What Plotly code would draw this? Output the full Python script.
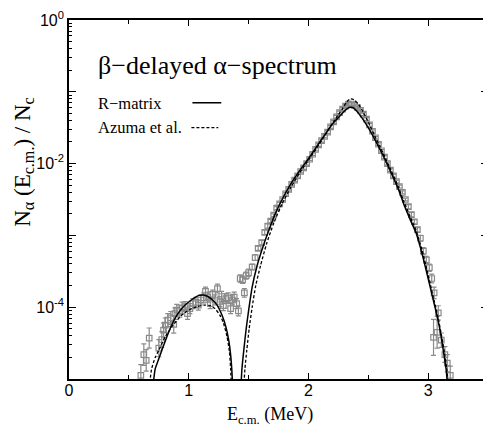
import plotly.graph_objects as go

# ---- measured spectrum (E_cm in MeV, N_alpha/N_c) ----
energy = [0.60, 0.625, 0.645, 0.67, 0.75, 0.775, 0.79, 0.805, 0.825, 0.85,
          0.875, 0.885, 0.90, 0.925, 0.945, 0.97, 0.99, 1.01, 1.035, 1.06,
          1.08, 1.10, 1.125, 1.14, 1.16, 1.18, 1.20, 1.22, 1.24, 1.26,
          1.275, 1.29, 1.31, 1.33, 1.35, 1.365, 1.38, 1.40, 1.415, 1.43,
          1.45, 1.465, 1.48, 1.50, 1.53, 1.555, 1.58, 1.61, 1.635, 1.66,
          1.685, 1.71, 1.735, 1.76, 1.785, 1.81, 1.835, 1.86, 1.885, 1.91,
          1.935, 1.96, 1.985, 2.01, 2.035, 2.06, 2.085, 2.11, 2.135, 2.16,
          2.185, 2.21, 2.235, 2.26, 2.285, 2.31, 2.335, 2.36, 2.385, 2.41,
          2.435, 2.46, 2.485, 2.51, 2.535, 2.56, 2.585, 2.61, 2.635, 2.66,
          2.685, 2.71, 2.735, 2.76, 2.785, 2.81, 2.835, 2.86, 2.885, 2.91,
          2.935, 2.96, 2.985, 3.01, 3.03, 3.045, 3.05, 3.075, 3.085, 3.11,
          3.14, 3.16, 3.185]
counts = [1.12e-5, 2.19e-5, 1.82e-5, 3.72e-5, 2.69e-5, 3.55e-5, 4.79e-5, 5.62e-5, 6.61e-5, 7.08e-5,
          5.75e-5, 8.13e-5, 9.12e-5, 8.71e-5, 9.77e-5, 1.02e-4, 8.13e-5, 9.55e-5, 1.12e-4, 1.17e-4,
          1.07e-4, 1.26e-4, 1.35e-4, 1.66e-4, 1.38e-4, 1.12e-4, 1.51e-4, 1.26e-4, 1.82e-4, 1.20e-4,
          1.41e-4, 1.05e-4, 1.32e-4, 1.35e-4, 9.55e-5, 1.26e-4, 1.38e-4, 1.12e-4, 8.91e-5, 2.51e-4,
          2.40e-4, 1.58e-4, 2.75e-4, 3.02e-4, 3.63e-4, 4.90e-4, 6.61e-4, 7.94e-4, 1.10e-3, 1.35e-3,
          1.58e-3, 1.91e-3, 2.40e-3, 2.75e-3, 3.16e-3, 3.80e-3, 4.37e-3, 5.13e-3, 5.89e-3, 6.76e-3,
          7.76e-3, 8.71e-3, 1.00e-2, 1.15e-2, 1.35e-2, 1.58e-2, 1.82e-2, 2.09e-2, 2.40e-2, 2.75e-2,
          3.24e-2, 3.80e-2, 4.47e-2, 5.13e-2, 5.75e-2, 6.31e-2, 6.76e-2, 6.76e-2, 6.46e-2, 6.03e-2,
          5.50e-2, 4.90e-2, 4.17e-2, 3.47e-2, 2.82e-2, 2.29e-2, 1.86e-2, 1.51e-2, 1.23e-2, 1.00e-2,
          8.13e-3, 6.76e-3, 5.62e-3, 4.79e-3, 3.98e-3, 3.16e-3, 2.51e-3, 1.95e-3, 1.55e-3, 1.20e-3,
          9.12e-4, 6.03e-4, 4.57e-4, 3.55e-4, 2.51e-4, 3.80e-5, 1.58e-4, 4.47e-5, 8.32e-5, 3.47e-5,
          2.19e-5, 1.66e-5, 1.12e-5]
# error half-width in decades
err_dec = [0.15, 0.15, 0.15, 0.14, 0.12, 0.11, 0.10, 0.10, 0.09, 0.09,
           0.12, 0.08, 0.08, 0.08, 0.08, 0.07, 0.08, 0.07, 0.07, 0.07,
           0.07, 0.07, 0.07, 0.06, 0.07, 0.07, 0.06, 0.07, 0.06, 0.07,
           0.07, 0.07, 0.07, 0.07, 0.07, 0.07, 0.07, 0.07, 0.07, 0.05,
           0.05, 0.06, 0.05, 0.05, 0.04, 0.04, 0.03, 0.03, 0.03, 0.03,
           0.02, 0.02, 0.02, 0.02, 0.02, 0.02, 0.02, 0.02, 0.02, 0.02,
           0.02, 0.02, 0.02, 0.02, 0.02, 0.02, 0.02, 0.02, 0.02, 0.02,
           0.02, 0.02, 0.02, 0.02, 0.02, 0.02, 0.02, 0.02, 0.02, 0.02,
           0.02, 0.02, 0.02, 0.02, 0.02, 0.02, 0.02, 0.02, 0.02, 0.02,
           0.02, 0.02, 0.02, 0.02, 0.02, 0.02, 0.03, 0.03, 0.03, 0.03,
           0.04, 0.05, 0.05, 0.05, 0.06, 0.25, 0.08, 0.22, 0.10, 0.10,
           0.11, 0.12, 0.13]

# ---- R-matrix fit (solid) ----
rmatrix_e = [0.705, 0.72, 0.75, 0.78, 0.82, 0.86, 0.91, 0.97, 1.03, 1.08,
             1.12, 1.16, 1.20, 1.24, 1.28, 1.31, 1.335, 1.35, 1.36, 1.365,
             None,
             1.438, 1.445, 1.46, 1.48, 1.50, 1.53, 1.57, 1.61, 1.66, 1.72,
             1.78, 1.85, 1.93, 2.00, 2.07, 2.14, 2.20, 2.25, 2.30, 2.34,
             2.37, 2.41, 2.45, 2.50, 2.55, 2.60, 2.65, 2.70, 2.75, 2.80,
             2.85, 2.90, 2.95, 3.00, 3.04, 3.08, 3.11, 3.13, 3.15, 3.16]
rmatrix_y = [8.9e-6, 1.38e-5, 1.91e-5, 2.63e-5, 3.98e-5, 5.75e-5, 8.13e-5, 1.07e-4, 1.29e-4, 1.45e-4,
             1.48e-4, 1.41e-4, 1.26e-4, 1.05e-4, 7.59e-5, 5.37e-5, 3.39e-5, 2.19e-5, 1.35e-5, 8.9e-6,
             None,
             8.9e-6, 1.41e-5, 2.51e-5, 5.01e-5, 8.91e-5, 1.91e-4, 3.72e-4, 6.17e-4, 1.07e-3, 1.95e-3,
             3.16e-3, 5.13e-3, 8.13e-3, 1.17e-2, 1.74e-2, 2.57e-2, 3.55e-2, 4.37e-2, 5.37e-2, 6.03e-2,
             6.03e-2, 5.25e-2, 4.27e-2, 3.16e-2, 2.24e-2, 1.55e-2, 1.05e-2, 6.92e-3, 4.47e-3, 2.63e-3,
             1.66e-3, 1.07e-3, 5.50e-4, 2.51e-4, 1.32e-4, 6.92e-5, 3.80e-5, 2.29e-5, 1.38e-5, 8.9e-6]

# ---- Azuma et al. (dashed) ----
azuma_e = [0.675, 0.69, 0.72, 0.75, 0.80, 0.86, 0.93, 1.00, 1.07, 1.13,
           1.18, 1.22, 1.26, 1.29, 1.32, 1.34, 1.35, 1.355,
           None,
           1.462, 1.47, 1.485, 1.505, 1.53, 1.56, 1.60, 1.65, 1.71, 1.78,
           1.85, 1.93, 2.00, 2.07, 2.14, 2.20, 2.25, 2.29, 2.32, 2.35,
           2.38, 2.42, 2.46, 2.50, 2.55, 2.60, 2.65, 2.70, 2.75, 2.80,
           2.85, 2.90, 2.95, 3.00, 3.04, 3.08, 3.11, 3.135, 3.155, 3.166]
azuma_y = [8.9e-6, 1.38e-5, 2.00e-5, 2.51e-5, 3.80e-5, 5.37e-5, 7.41e-5, 9.12e-5, 1.02e-4, 1.07e-4,
           1.05e-4, 9.55e-5, 7.76e-5, 6.03e-5, 3.89e-5, 2.40e-5, 1.41e-5, 8.9e-6,
           None,
           8.9e-6, 1.41e-5, 2.51e-5, 5.01e-5, 1.00e-4, 2.00e-4, 3.80e-4, 7.59e-4, 1.48e-3, 2.75e-3,
           4.57e-3, 7.59e-3, 1.12e-2, 1.66e-2, 2.51e-2, 3.63e-2, 4.79e-2, 6.03e-2, 7.24e-2, 7.94e-2,
           7.76e-2, 6.61e-2, 5.13e-2, 3.80e-2, 2.51e-2, 1.70e-2, 1.12e-2, 7.41e-3, 4.79e-3, 2.88e-3,
           1.82e-3, 1.17e-3, 6.17e-4, 2.82e-4, 1.45e-4, 7.59e-5, 4.17e-5, 2.40e-5, 1.41e-5, 8.9e-6]

y_tickvals = [1, 1e-1, 1e-2, 1e-3, 1e-4, 1e-5]
y_ticktext = ["10<sup>0</sup>", "", "10<sup>-2</sup>", "", "10<sup>-4</sup>", ""]
x_tickvals = [0, 1, 2, 3]
x_ticktext = ["0", "1", "2", "3"]

err_up = [c * (10 ** d - 1) for c, d in zip(counts, err_dec)]
err_dn = [c * (1 - 10 ** (-d)) for c, d in zip(counts, err_dec)]

GRAY = "#8a8a8a"

fig = go.Figure()
fig.add_trace(go.Scatter(
    x=energy, y=counts, mode="markers",
    marker=dict(symbol="square-open", size=5.5, color=GRAY, line=dict(width=1.2, color=GRAY)),
    error_y=dict(type="data", symmetric=False, array=err_up, arrayminus=err_dn,
                 color=GRAY, thickness=1.2, width=2.5),
    showlegend=False, cliponaxis=True))
fig.add_trace(go.Scatter(
    x=azuma_e, y=azuma_y, mode="lines",
    line=dict(color="black", width=1.3, dash="3px,2px", shape="spline", smoothing=0.6),
    connectgaps=False, showlegend=False))
fig.add_trace(go.Scatter(
    x=rmatrix_e, y=rmatrix_y, mode="lines",
    line=dict(color="black", width=1.5, shape="spline", smoothing=0.6),
    connectgaps=False, showlegend=False))

# page has an 8px body margin; positions below are in page pixels
OFF = 8
W, H = 491 - OFF, 430 - OFF
X0, X1, Y0, Y1 = 69, 490, 19, 379          # plot frame in page pixels
L, R, T, B = X0 - OFF, W - (X1 - OFF), Y0 - OFF, H - (Y1 - OFF)
pw, ph = W - L - R, H - T - B


def px(xp):
    return (xp - X0) / pw


def py(yp):
    return (Y1 - yp) / ph


serif = "Liberation Serif, Times New Roman, serif"
sans = "Liberation Sans, Arial, sans-serif"

fig.add_annotation(x=px(96), y=py(65), xref="paper", yref="paper", xanchor="left", yanchor="middle",
                   text="β−delayed α−spectrum", showarrow=False,
                   font=dict(family=serif, size=26, color="black"))
fig.add_annotation(x=px(96), y=py(103), xref="paper", yref="paper", xanchor="left", yanchor="middle",
                   text="R−matrix", showarrow=False, font=dict(family=serif, size=16.5, color="black"))
fig.add_annotation(x=px(96), y=py(127), xref="paper", yref="paper", xanchor="left", yanchor="middle",
                   text="Azuma et al.", showarrow=False, font=dict(family=serif, size=16.5, color="black"))
fig.add_shape(type="line", xref="paper", yref="paper", x0=px(193), x1=px(222), y0=py(102), y1=py(102),
              line=dict(color="black", width=1.5))
fig.add_shape(type="line", xref="paper", yref="paper", x0=px(192), x1=px(219), y0=py(127), y1=py(127),
              line=dict(color="black", width=1.3, dash="3px,2px"))

# axis titles
fig.add_annotation(x=px(271), y=py(416), xref="paper", yref="paper", xanchor="center", yanchor="middle",
                   text="E<sub>c.m.</sub> (MeV)", showarrow=False,
                   font=dict(family=serif, size=18, color="black"))
fig.add_annotation(x=px(23), y=py(161), xref="paper", yref="paper", xanchor="center", yanchor="middle",
                   text="N<sub>α</sub> (E<sub>c.m.</sub>) / N<sub>c</sub>", showarrow=False, textangle=-90,
                   font=dict(family=serif, size=23, color="black"))

minor_y = [m * 10 ** k for k in range(-5, 0) for m in range(2, 10)]

fig.update_layout(
    width=W, height=H,
    margin=dict(l=L, r=R, t=T, b=B),
    paper_bgcolor="white", plot_bgcolor="white",
    xaxis=dict(range=[0, 3.5], tickmode="array", tickvals=x_tickvals, ticktext=x_ticktext,
               ticks="inside", ticklen=6, tickwidth=1.2, tickcolor="black",
               minor=dict(tickmode="array", tickvals=[0.5, 1.5, 2.5], ticks="inside", ticklen=4,
                          tickwidth=1.2, tickcolor="black", showgrid=False),
               showline=True, linecolor="black", linewidth=1.6, mirror="allticks",
               showgrid=False, zeroline=False, ticklabelstandoff=-4,
               tickfont=dict(family=sans, size=16, color="black")),
    yaxis=dict(type="log", range=[-5, 0], tickmode="array", tickvals=y_tickvals, ticktext=y_ticktext,
               ticks="inside", ticklen=7, tickwidth=1.2, tickcolor="black",
               minor=dict(tickmode="array", tickvals=minor_y, ticks="inside", ticklen=3.5,
                          tickwidth=1, tickcolor="black", showgrid=False),
               showline=True, linecolor="black", linewidth=1.6, mirror="allticks",
               showgrid=False, zeroline=False, ticklabeloverflow="allow",
               tickfont=dict(family=sans, size=16, color="black")),
)

fig.write_html("out.html")
